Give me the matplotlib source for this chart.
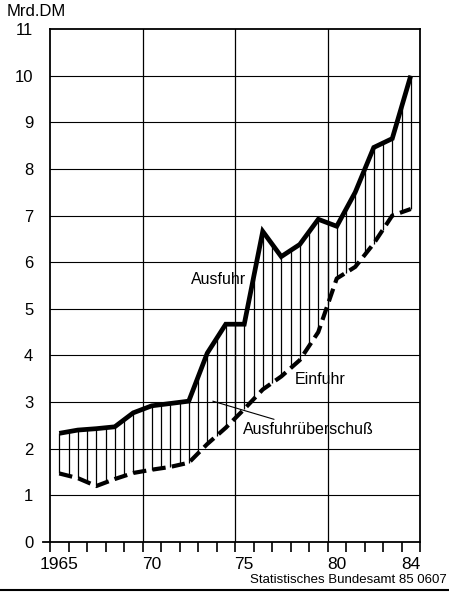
import numpy as np
import matplotlib
matplotlib.use("Agg")
import matplotlib.pyplot as plt

# ---- data (Mrd. DM) ----
years = np.arange(1965, 1985)
ausfuhr = [2.33, 2.40, 2.43, 2.47, 2.77, 2.92, 2.97, 3.02, 4.05, 4.67,
           4.67, 6.66, 6.12, 6.38, 6.92, 6.77, 7.50, 8.46, 8.65, 10.0]
einfuhr = [1.47, 1.37, 1.20, 1.35, 1.48, 1.55, 1.61, 1.70, 2.10, 2.45,
           2.85, 3.27, 3.55, 3.90, 4.50, 5.65, 5.90, 6.40, 7.00, 7.14]
xtick_labels = ["1965", "70", "75", "80", "84"]
xtick_years = [1965, 1970, 1975, 1980, 1984]
ytick_values = list(range(0, 12))

plt.rcParams['font.family'] = ['Liberation Sans', 'DejaVu Sans']

fig = plt.figure(figsize=(4.49, 5.95), dpi=100)
ax = fig.add_axes([50/449, 53/595, 370/449, 513/595])

x = years + 0.5  # values plotted at mid-year

# vertical hatching between the curves (every half year)
h = np.arange(x[0], x[-1] + 0.01, 0.5)
lo = np.interp(h, x, einfuhr)
hi = np.interp(h, x, ausfuhr)
ax.vlines(h, lo, hi, colors='black', linewidth=0.9, zorder=2)

ax.plot(x, ausfuhr, color='black', linewidth=3.4, solid_joinstyle='miter',
        solid_capstyle='butt', zorder=4)
ax.plot(x, einfuhr, color='black', linewidth=3.0, dashes=(3.2, 1.5),
        dash_capstyle='butt', zorder=4)

ax.set_xlim(1965, 1985)
ax.set_ylim(0, 11)

# grid
for v in range(1, 11):
    ax.axhline(v, color='black', linewidth=0.8, zorder=1)
for v in (1970, 1975, 1980):
    ax.axvline(v, color='black', linewidth=0.9, zorder=1)

# x axis line extends slightly left of the frame
ax.plot([1964.6, 1965], [0, 0], color='black', linewidth=1.3, clip_on=False)

for s in ax.spines.values():
    s.set_linewidth(1.3)

ax.set_yticks(ytick_values)
ax.set_yticklabels([str(v) for v in ytick_values], fontsize=12)
ax.tick_params(axis='y', length=0, pad=12)

ax.set_xticks(np.arange(1965, 1986))
ax.set_xticklabels([])
ax.tick_params(axis='x', which='major', direction='out', length=7, width=1.2)
ax.set_xticks([y + 0.5 for y in xtick_years], minor=True)
ax.set_xticklabels(xtick_labels, minor=True, fontsize=12.5)
ax.tick_params(axis='x', which='minor', length=0, pad=10.5)

# labels
ax.text(1974.1, 5.63, "Ausfuhr", fontsize=11.5, ha='center', va='center',
        zorder=5)
ax.text(1979.6, 3.48, "Einfuhr", fontsize=11.5, ha='center', va='center',
        zorder=5)
ax.annotate("Ausfuhrüberschuß", xy=(1973.8, 3.02), xytext=(1975.45, 2.41),
            fontsize=11.5, ha='left', va='center',
            arrowprops=dict(arrowstyle='-', color='black', lw=0.8,
                            shrinkA=0, shrinkB=0),
            zorder=5)

fig.text(7/449, 1 - 12/595, "Mrd.DM", fontsize=12, ha='left', va='center')
fig.text(447/449, 1 - 580/595, "Statistisches Bundesamt 85 0607", fontsize=9.5,
         ha='right', va='center')

# bottom page rule
fig.add_artist(plt.Line2D([0.0, 1.0], [5/595, 5/595], color='black',
                          linewidth=1.5, transform=fig.transFigure))

fig.savefig("out.png", dpi=100)
